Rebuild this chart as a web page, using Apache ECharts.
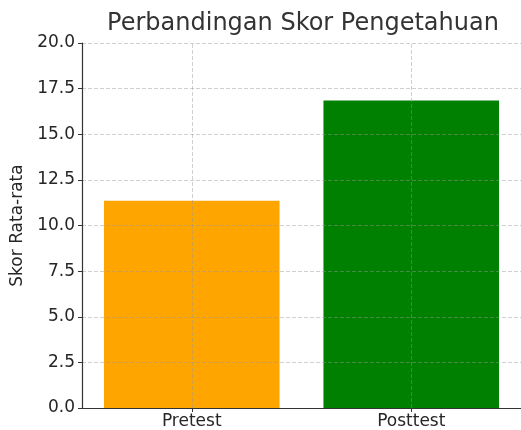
<!DOCTYPE html>
<html>
<head>
<meta charset="utf-8">
<script src="https://cdn.jsdelivr.net/npm/echarts@6/dist/echarts.min.js"></script>
<style>html,body{margin:0;padding:0;background:#fff}#c{width:521px;height:430px}</style>
</head>
<body>
<div id="c"></div>
<script>
const categories = ['Pretest', 'Posttest'];
const scores = [11.36, 16.85];
const barColors = ['#FFA500', '#008000'];
const titleText = 'Perbandingan Skor Pengetahuan';
const yAxisName = 'Skor Rata-rata';

const chart = echarts.init(document.getElementById('c'), null, {renderer: 'canvas'});
const font = 'DejaVu Sans';
const gridLine = {color: 'rgba(150,150,150,0.45)', width: 1, type: [4, 2]};
chart.setOption({
  animation: false,
  title: {
    text: titleText, left: 298, top: 7, textAlign: 'center',
    textStyle: {fontFamily: font, fontSize: 24, fontWeight: 'normal', color: '#333'}
  },
  grid: {left: 82, top: 43, width: 442, height: 365},
  xAxis: {
    type: 'category', data: categories, boundaryGap: true, z: 6,
    axisLine: {lineStyle: {color: '#333', width: 1.2}},
    axisTick: {show: true, alignWithLabel: true, length: 4, lineStyle: {color: '#333'}},
    axisLabel: {fontFamily: font, fontSize: 17, color: '#262626', margin: 5},
    splitLine: {show: false}
  },
  yAxis: {
    type: 'value', min: 0, max: 20, interval: 2.5, z: 5,
    name: yAxisName, nameLocation: 'middle', nameGap: 53,
    nameTextStyle: {fontFamily: font, fontSize: 17, color: '#262626'},
    axisLine: {show: true, lineStyle: {color: '#333', width: 1.2}},
    axisTick: {show: true, length: 4, lineStyle: {color: '#333'}},
    axisLabel: {fontFamily: font, fontSize: 17, color: '#262626', margin: 7,
      formatter: v => v.toFixed(1)},
    splitLine: {show: true, lineStyle: gridLine}
  },
  series: [{
    type: 'bar', barWidth: '80%',
    data: scores.map((v, i) => ({value: v, itemStyle: {color: barColors[i]}})),
    markLine: {
      silent: true, symbol: ['none', 'none'], label: {show: false},
      lineStyle: gridLine, emphasis: {disabled: true},
      data: categories.map(c => ({xAxis: c}))
    }
  }]
});
</script>
</body>
</html>
